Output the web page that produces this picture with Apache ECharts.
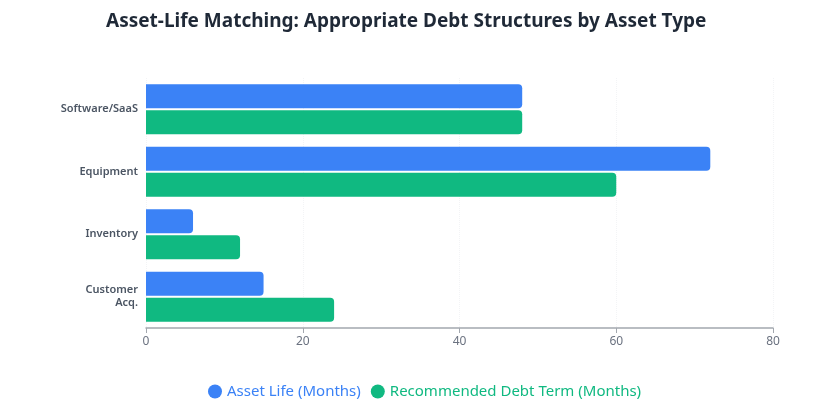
<!DOCTYPE html>
<html>
<head>
<meta charset="utf-8">
<script src="https://cdn.jsdelivr.net/npm/echarts@6/dist/echarts.min.js"></script>
<style>
    html, body { margin: 0; padding: 0; background: #fff; }
    #chart { width: 818px; height: 408px; }
</style>
</head>
<body>
<div id="chart"></div>
<script>
// 资产类型
const categories = ["Software/SaaS", "Equipment", "Inventory", "Customer Acq."];
// 资产寿命（月）
const assetLife = [48, 72, 6, 15];
// 建议债务期限（月）
const debtTerm = [48, 60, 12, 24];
const xTicks = [0, 20, 40, 60, 80];

const blue = "#3b82f6";
const green = "#10b981";
const font = "Noto Sans";

const myChart = echarts.init(document.getElementById("chart"));
const option = {
    textStyle: { fontFamily: font },
    title: {
        text: "Asset-Life Matching: Appropriate Debt Structures by Asset Type",
        left: 101,
        top: 7,
        textStyle: {
            color: "#1f2937",
            fontSize: 19,
            fontWeight: "bold",
            fontFamily: font
        }
    },
    grid: {
        left: 146,
        right: 45,
        top: 78,
        bottom: 80
    },
    legend: {
        bottom: 4,
        left: 203,
        icon: "circle",
        itemWidth: 14,
        itemHeight: 14,
        itemGap: 10,
        data: [
            { name: "Asset Life (Months)", textStyle: { color: blue } },
            { name: "Recommended Debt Term (Months)", textStyle: { color: green } }
        ],
        textStyle: { fontSize: 15, fontFamily: font }
    },
    xAxis: {
        type: "value",
        min: xTicks[0],
        max: xTicks[xTicks.length - 1],
        interval: 20,
        axisLine: {
            // 轴
            show: true,
            lineStyle: { color: "#a3a8af", width: 1.5 }
        },
        axisTick: {
            // 刻度
            show: true,
            length: 5,
            lineStyle: { color: "#a3a8af" }
        },
        axisLabel: {
            color: "#6b7280",
            fontSize: 12
        },
        splitLine: {
            // 隔线
            show: true,
            lineStyle: { color: "#f3f4f6", type: "dotted" }
        }
    },
    yAxis: {
        type: "category",
        inverse: true,
        data: categories,
        axisLine: { show: false },
        axisTick: { show: false },
        axisLabel: {
            color: "#4b5563",
            fontSize: 11,
            fontWeight: 600,
            margin: 8,
            align: "right",
            lineHeight: 13,
            formatter: (v) => v.replace(" ", "\n")
        },
        splitLine: { show: false }
    },
    series: [
        {
            name: "Asset Life (Months)",
            type: "bar",
            data: assetLife,
            barWidth: 24,
            barGap: "8%",
            itemStyle: { color: blue, borderRadius: [0, 4, 4, 0] }
        },
        {
            name: "Recommended Debt Term (Months)",
            type: "bar",
            data: debtTerm,
            barWidth: 24,
            barGap: "8%",
            itemStyle: { color: green, borderRadius: [0, 4, 4, 0] }
        }
    ]
};
myChart.setOption(option);
</script>
</body>
</html>
